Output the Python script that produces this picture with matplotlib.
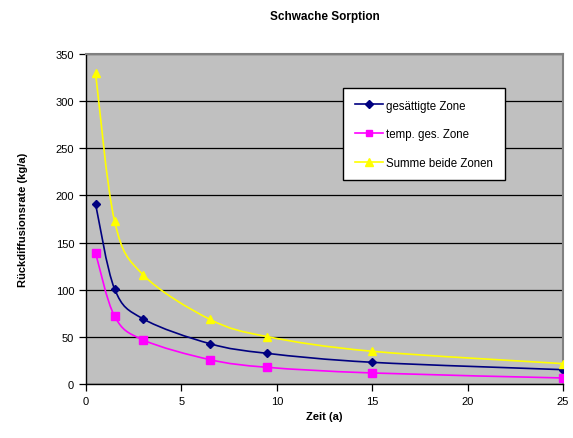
import numpy as np
import matplotlib
matplotlib.use('Agg')
import matplotlib.pyplot as plt
from matplotlib.path import Path
import matplotlib.patches as mpatches
from matplotlib.lines import Line2D

plt.rcParams['font.family'] = ['Liberation Sans', 'DejaVu Sans']

# Zeitpunkte (a) und Rueckdiffusionsraten (kg/a)
zeit = [0.5, 1.5, 3, 6.5, 9.5, 15, 25]
gesaettigt = [191, 100.7, 69, 42.7, 32.5, 23, 15.2]
temp_ges = [139, 71.8, 46.7, 25.8, 17.7, 11.7, 6.4]
summe = [330, 172.5, 115.7, 68.5, 50.2, 34.7, 21.6]

serien = [
    ("gesättigte Zone", gesaettigt, '#000080', 'D', 4.3),
    ("temp. ges. Zone", temp_ges, '#FF00FF', 's', 5.3),
    ("Summe beide Zonen", summe, '#FFFF00', '^', 6),
]


def smooth_path(x, y):
    # geglaettete Linie wie in Excel: Bezier mit Catmull-Rom Kontrollpunkten
    pts = np.column_stack([x, y]).astype(float)
    n = len(pts)
    verts = [pts[0]]
    codes = [Path.MOVETO]
    for i in range(n - 1):
        p0 = pts[i - 1] if i > 0 else pts[i]
        p1 = pts[i]
        p2 = pts[i + 1]
        p3 = pts[i + 2] if i + 2 < n else pts[i + 1]
        c1 = p1 + (p2 - p0) / 6.0
        c2 = p2 - (p3 - p1) / 6.0
        verts += [c1, c2, p2]
        codes += [Path.CURVE4] * 3
    return Path(verts, codes)


fig = plt.figure(figsize=(5.73, 4.39), dpi=100)
ax = fig.add_axes([86/573, 1 - 385/439, 477/573, 330/439])
ax.set_facecolor('#C0C0C0')

for name, werte, farbe, marker, ms in serien:
    ax.add_patch(mpatches.PathPatch(smooth_path(zeit, werte), fill=False,
                                    edgecolor=farbe, lw=1.2, zorder=3))
    ax.plot(zeit, werte, linestyle='none', marker=marker, color=farbe,
            markersize=ms, zorder=4)

ax.set_xlim(0, 25)
ax.set_ylim(0, 350)
ax.set_xticks(np.arange(0, 26, 5))
ax.set_yticks(np.arange(0, 351, 50))
ax.yaxis.grid(True, color='black', lw=0.9)
ax.set_axisbelow(True)

for s in ['top', 'right']:
    ax.spines[s].set_color('#808080')
    ax.spines[s].set_linewidth(1.5)
for s in ['left', 'bottom']:
    ax.spines[s].set_color('black')
    ax.spines[s].set_linewidth(1)

ax.tick_params(axis='both', direction='out', length=5, width=0.9,
               labelsize=8, colors='black')

ax.set_title("Schwache Sorption", fontsize=8.5, fontweight='bold', pad=25)
ax.set_xlabel("Zeit (a)", fontsize=8, fontweight='bold', labelpad=4)
ax.set_ylabel("Rückdiffusionsrate (kg/a)", fontsize=8, fontweight='bold',
              labelpad=20)

handles = [Line2D([], [], color=f, marker=m, markersize=ms * 0.9, lw=1.2)
           for _, _, f, m, ms in serien]
leg = ax.legend(handles, [s[0] for s in serien],
                loc='upper left', bbox_to_anchor=(0.539, 0.897),
                fontsize=8.3, frameon=True, fancybox=False, borderpad=1.0,
                labelspacing=1.45, handlelength=2.5, handletextpad=0.25,
                borderaxespad=0, framealpha=1)
leg.get_frame().set_edgecolor('black')
leg.get_frame().set_linewidth(1)
leg.get_frame().set_facecolor('white')

fig.savefig('out.png', dpi=100)
